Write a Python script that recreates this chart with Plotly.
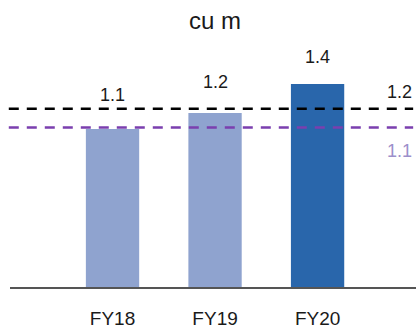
import plotly.graph_objects as go

categories = ["FY18", "FY19", "FY20"]
values = [1.09, 1.20, 1.40]
value_labels = ["1.1", "1.2", "1.4"]
bar_colors = ["#8FA3CF", "#8FA3CF", "#2966AB"]
ref_black_value = 1.23
ref_black_label = "1.2"
ref_purple_value = 1.10
ref_purple_label = "1.1"
title_text = "cu m"

xpos = list(range(len(categories)))
FONT = "Liberation Sans, Arial, sans-serif"

fig = go.Figure()
fig.add_trace(go.Bar(
    x=xpos, y=values, width=0.52,
    marker=dict(color=bar_colors, line=dict(width=0)),
    hoverinfo="skip",
))

# reference lines
fig.add_shape(type="line", xref="paper", yref="y", x0=-0.003, x1=0.993,
              y0=ref_black_value, y1=ref_black_value,
              line=dict(color="#000000", width=2.5, dash="10px,8px"))
fig.add_shape(type="line", xref="paper", yref="y", x0=-0.003, x1=0.993,
              y0=ref_purple_value, y1=ref_purple_value,
              line=dict(color="#7B3FAF", width=2.5, dash="10px,8px"))

label_shifts = [22, 19, 15]
for xi, v, lab, sh in zip(xpos, values, value_labels, label_shifts):
    fig.add_annotation(x=xi, y=v, text=lab, showarrow=False,
                       yanchor="bottom", yshift=sh,
                       font=dict(family=FONT, size=18, color="#1a1a1a"))

fig.add_annotation(xref="paper", x=1, y=ref_black_value, text=ref_black_label,
                   showarrow=False, xanchor="right", xshift=-2,
                   yanchor="bottom", yshift=5,
                   font=dict(family=FONT, size=18, color="#1a1a1a"))
fig.add_annotation(xref="paper", x=1, y=ref_purple_value, text=ref_purple_label,
                   showarrow=False, xanchor="right", xshift=-2,
                   yanchor="top", yshift=-11,
                   font=dict(family=FONT, size=18, color="#9C8FCB"))

fig.update_layout(
    width=416, height=330,
    margin=dict(l=10, r=0, t=40, b=43),
    paper_bgcolor="white", plot_bgcolor="white",
    showlegend=False,
    title=dict(text=title_text, x=215/416, xref="container", xanchor="center",
               y=1 - 21/330, yref="container", yanchor="middle",
               font=dict(family=FONT, size=24, color="#1a1a1a")),
    xaxis=dict(range=[-1.0, 2.96], tickvals=xpos, ticktext=categories,
               showgrid=False, zeroline=False, showline=True,
               linecolor="#555555", linewidth=1.5, automargin=False,
               ticks="outside", ticklen=14, tickcolor="rgba(0,0,0,0)",
               tickfont=dict(family=FONT, size=19, color="#1a1a1a")),
    yaxis=dict(range=[0, 247/145], visible=False, showgrid=False,
               zeroline=False, automargin=False),
)

fig.write_html(
    "out.html",
    config={"displayModeBar": False, "staticPlot": True},
    post_script="document.body.style.margin='0';document.body.style.padding='0';document.body.style.overflow='hidden';",
)
